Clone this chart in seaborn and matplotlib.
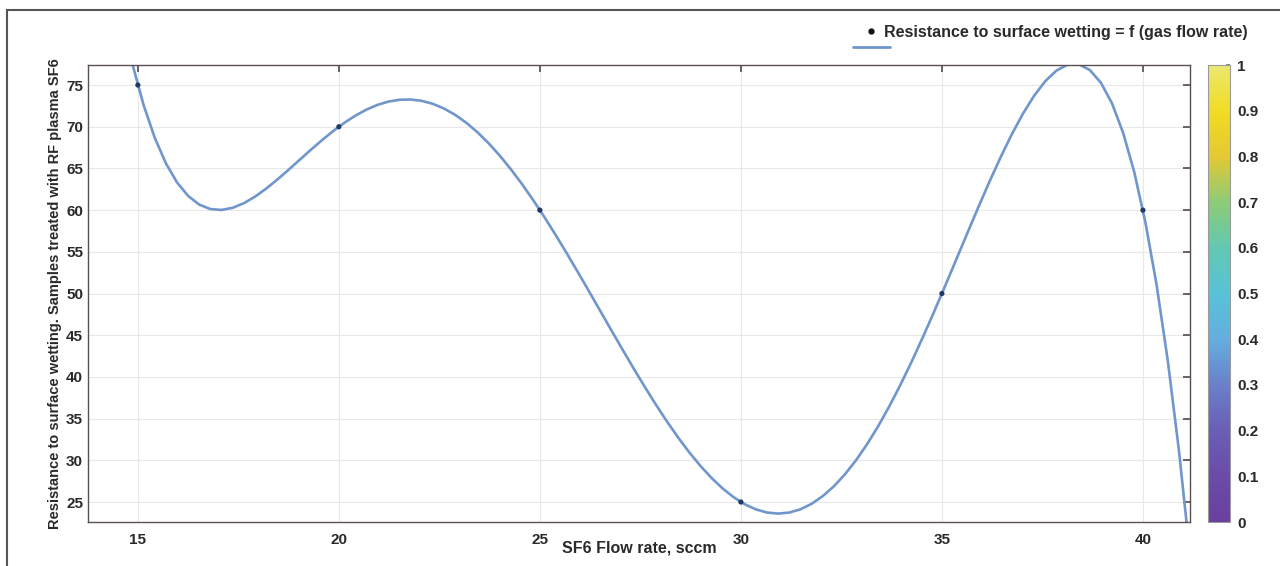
"""Résistance au mouillage de surface en fonction du débit de SF6 (ajustement polynomial)."""

import matplotlib
matplotlib.use("Agg")
import matplotlib.pyplot as plt
import seaborn as sns
from matplotlib.lines import Line2D
from matplotlib.patches import Rectangle
from matplotlib.colors import LinearSegmentedColormap

# Données
debit_sf6 = [15, 20, 25, 30, 35, 40]
resistance = [75, 70, 60, 25, 50, 60]
x_ticks = [15, 20, 25, 30, 35, 40]
y_ticks = [25, 30, 35, 40, 45, 50, 55, 60, 65, 70, 75]
cbar_ticks = [0, 0.1, 0.2, 0.3, 0.4, 0.5, 0.6, 0.7, 0.8, 0.9, 1]
cbar_labels = ["0", "0.1", "0.2", "0.3", "0.4", "0.5", "0.6", "0.7", "0.8", "0.9", "1"]

sns.set_theme(style="white")
plt.rcParams["font.family"] = ["Liberation Sans", "DejaVu Sans"]
plt.rcParams["font.weight"] = "bold"

couleur_ligne = "#7096cc"
couleur_point = "#1f3a66"
couleur_axe = "#5a5050"
couleur_texte = "#2a2a2a"

fig = plt.figure(figsize=(12.8, 5.66), dpi=100)
ax = fig.add_axes([0.06875, 0.0777, 0.8609, 0.8074])
ax.set_xlim(13.76, 41.17)
ax.set_ylim(22.6, 77.4)

# Courbe d'ajustement polynomial (ordre 5) étendue sur toute la largeur
sns.regplot(x=debit_sf6, y=resistance, order=5, ci=None, truncate=False,
            scatter=False, ax=ax,
            line_kws={"color": couleur_ligne, "lw": 1.9, "solid_joinstyle": "round"})
sns.scatterplot(x=debit_sf6, y=resistance, ax=ax, color=couleur_point,
                s=14, edgecolor="none", zorder=3)
ax.set_xlim(13.76, 41.17)
ax.set_ylim(22.6, 77.4)

ax.set_xticks(x_ticks)
ax.set_yticks(y_ticks)
ax.tick_params(axis="both", labelsize=11, labelcolor=couleur_texte, length=5,
               direction="in", top=True, right=True, color=couleur_axe)
ax.tick_params(axis="x", pad=8)
for lab in ax.get_xticklabels() + ax.get_yticklabels():
    lab.set_fontweight("bold")
ax.grid(True, color="#e8e8e8", lw=0.8)
for sp in ax.spines.values():
    sp.set_color(couleur_axe)
    sp.set_linewidth(1.0)

ax.set_xlabel("SF6 Flow rate, sccm", fontsize=11.5, fontweight="bold",
              color=couleur_texte, labelpad=-5)
ax.set_ylabel("Resistance to surface wetting. Samples treated with RF plasma SF6",
              fontsize=10.5, fontweight="bold", color=couleur_texte, labelpad=3)

# Légende en haut à droite (point) + trait de l'ajustement en dessous
point = Line2D([], [], marker="o", ls="none", color="#111111", markersize=3.5)
fig.legend([point], ["Resistance to surface wetting = f (gas flow rate)"],
           loc="center left", bbox_to_anchor=(865 / 1280, 1 - 32 / 566),
           frameon=False, borderpad=0, borderaxespad=0, handlelength=0.8,
           handletextpad=0.4, prop={"weight": "bold", "size": 11.5},
           labelcolor=couleur_texte)
fig.add_artist(Line2D([853 / 1280, 890 / 1280], [1 - 47 / 566, 1 - 47 / 566],
                      transform=fig.transFigure, color=couleur_ligne, lw=2))

# Barre de couleur
couleurs_cb = ["#6a3fa0", "#6a4ca8", "#6a5eb6", "#6a80ca", "#64aee0", "#58c2d8",
               "#62c8b2", "#8ccc78", "#e4c834", "#f0dc22", "#ece870"]
cmap_cb = LinearSegmentedColormap.from_list("cb", couleurs_cb)
cax = fig.add_axes([0.9437, 0.0777, 0.0172, 0.8074])
sm = plt.cm.ScalarMappable(norm=plt.Normalize(0, 1), cmap=cmap_cb)
cb = fig.colorbar(sm, cax=cax)
cb.outline.set_edgecolor("#9a9a9a")
cb.outline.set_linewidth(0.8)
cb.set_ticks(cbar_ticks)
cb.set_ticklabels(cbar_labels)
cax.tick_params(labelsize=11, direction="in", length=3, color="#777777",
                labelcolor=couleur_texte, pad=5)
for lab in cax.get_yticklabels():
    lab.set_fontweight("bold")

# Cadre gris autour de la figure
fig.patches.append(Rectangle((7 / 1280, -0.05), 1.1, 1 - 10 / 566 + 0.05,
                             transform=fig.transFigure, fill=False,
                             edgecolor="#555555", lw=1.5))

fig.savefig("out.png", dpi=100)
